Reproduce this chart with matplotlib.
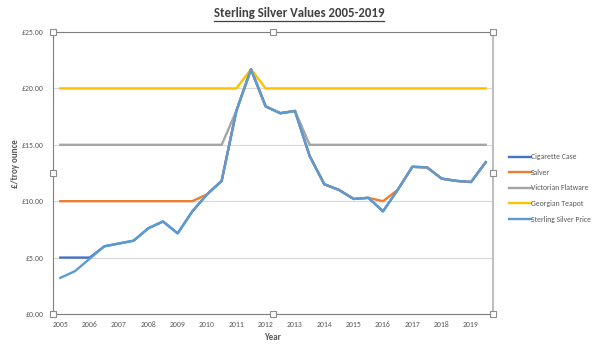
import matplotlib
matplotlib.use("Agg")
import matplotlib.pyplot as plt
from matplotlib.lines import Line2D

# half-yearly points, 2005 to 2019.5
years = [2005 + 0.5 * i for i in range(30)]

cigarette_case = [5.0, 5.0, 5.0, 6.0, 6.25, 6.5, 7.6, 8.2, 7.15, 9.1,
                  10.6, 11.8, 18.0, 21.7, 18.4, 17.8, 18.0, 14.0, 11.5, 11.0,
                  10.2, 10.3, 9.1, 11.0, 13.05, 13.0, 12.0, 11.8, 11.7, 13.45]
salver = [10.0, 10.0, 10.0, 10.0, 10.0, 10.0, 10.0, 10.0, 10.0, 10.0,
          10.6, 11.8, 18.0, 21.7, 18.4, 17.8, 18.0, 14.0, 11.5, 11.0,
          10.2, 10.3, 10.0, 11.0, 13.05, 13.0, 12.0, 11.8, 11.7, 13.45]
victorian_flatware = [15.0] * 11 + [15.0, 18.0, 21.7, 18.4, 17.8, 18.0] + [15.0] * 13
georgian_teapot = [20.0] * 13 + [21.7] + [20.0] * 16
silver_price = [3.2, 3.8, 4.9, 6.0, 6.25, 6.5, 7.6, 8.2, 7.15, 9.1,
                10.6, 11.8, 18.0, 21.7, 18.4, 17.8, 18.0, 14.0, 11.5, 11.0,
                10.2, 10.3, 9.1, 11.0, 13.05, 13.0, 12.0, 11.8, 11.7, 13.45]

series = [
    ("Cigarette Case", cigarette_case, "#4472C4"),
    ("Salver", salver, "#ED7D31"),
    ("Victorian Flatware", victorian_flatware, "#A5A5A5"),
    ("Georgian Teapot", georgian_teapot, "#FFC000"),
    ("Sterling Silver Price", silver_price, "#5B9BD5"),
]
year_ticks = list(range(2005, 2020))
y_ticks = [0, 5, 10, 15, 20, 25]

plt.rcParams["font.family"] = ["Carlito", "Liberation Sans", "DejaVu Sans"]
text_grey = "#595959"

fig = plt.figure(figsize=(6, 3.54), dpi=100)
ax = fig.add_axes([0.0883, 0.113, 0.7334, 0.7966])

for name, vals, col in series:
    ax.plot(years, vals, color=col, lw=1.7, label=name, solid_joinstyle="round")

ax.set_xlim(2005 - 0.25, 2019.5 + 0.25)
ax.set_ylim(0, 25)
ax.set_xticks(year_ticks)
ax.set_xticklabels([str(y) for y in year_ticks])
ax.set_yticks(y_ticks)
ax.set_yticklabels(["£%.2f" % v for v in y_ticks])
ax.tick_params(axis="both", length=0, labelsize=5.6, colors=text_grey)
ax.tick_params(axis="y", pad=7)
ax.tick_params(axis="x", pad=5)
ax.grid(axis="y", color="#D9D9D9", lw=0.8)
ax.set_axisbelow(True)

ax.spines["left"].set_color("#7F7F7F")
ax.spines["bottom"].set_color("#7F7F7F")
ax.spines["top"].set_color("#7F7F7F")
ax.spines["right"].set_color("#BFBFBF")
ax.spines["right"].set_linewidth(1.5)

ax.set_xlabel("Year", fontsize=6.5, fontweight="bold", color=text_grey, labelpad=4)
ax.set_ylabel("£/troy ounce", fontsize=6.5, fontweight="bold", color=text_grey)
ax.yaxis.set_label_coords(-0.074, 0.535)

leg = ax.legend(loc="center left", bbox_to_anchor=(1.02, 0.447), frameon=False,
                fontsize=5.6, handlelength=2.8, handletextpad=0.0,
                labelspacing=1.1)
for t in leg.get_texts():
    t.set_color(text_grey)

title = fig.text(0.498, 0.962, "Sterling Silver Values 2005-2019", ha="center",
                 va="center", fontsize=9.3, fontweight="bold", color="#404040")

# underline the title
fig.canvas.draw()
bb = title.get_window_extent().transformed(fig.transFigure.inverted())
fig.add_artist(Line2D([bb.x0, bb.x1], [bb.y0 - 0.004, bb.y0 - 0.004],
                      color="#404040", lw=0.9, transform=fig.transFigure))

# selection handles around the plot area
hx = [0, 0.5, 1, 0, 1, 0, 0.5, 1]
hy = [1, 1, 1, 0.5, 0.5, 0, 0, 0]
ax.plot(hx, hy, ls="none", marker="s", ms=5, mfc="white", mec="#8C8C8C",
        mew=0.8, transform=ax.transAxes, clip_on=False, zorder=10)

fig.savefig("out.png", dpi=100)
